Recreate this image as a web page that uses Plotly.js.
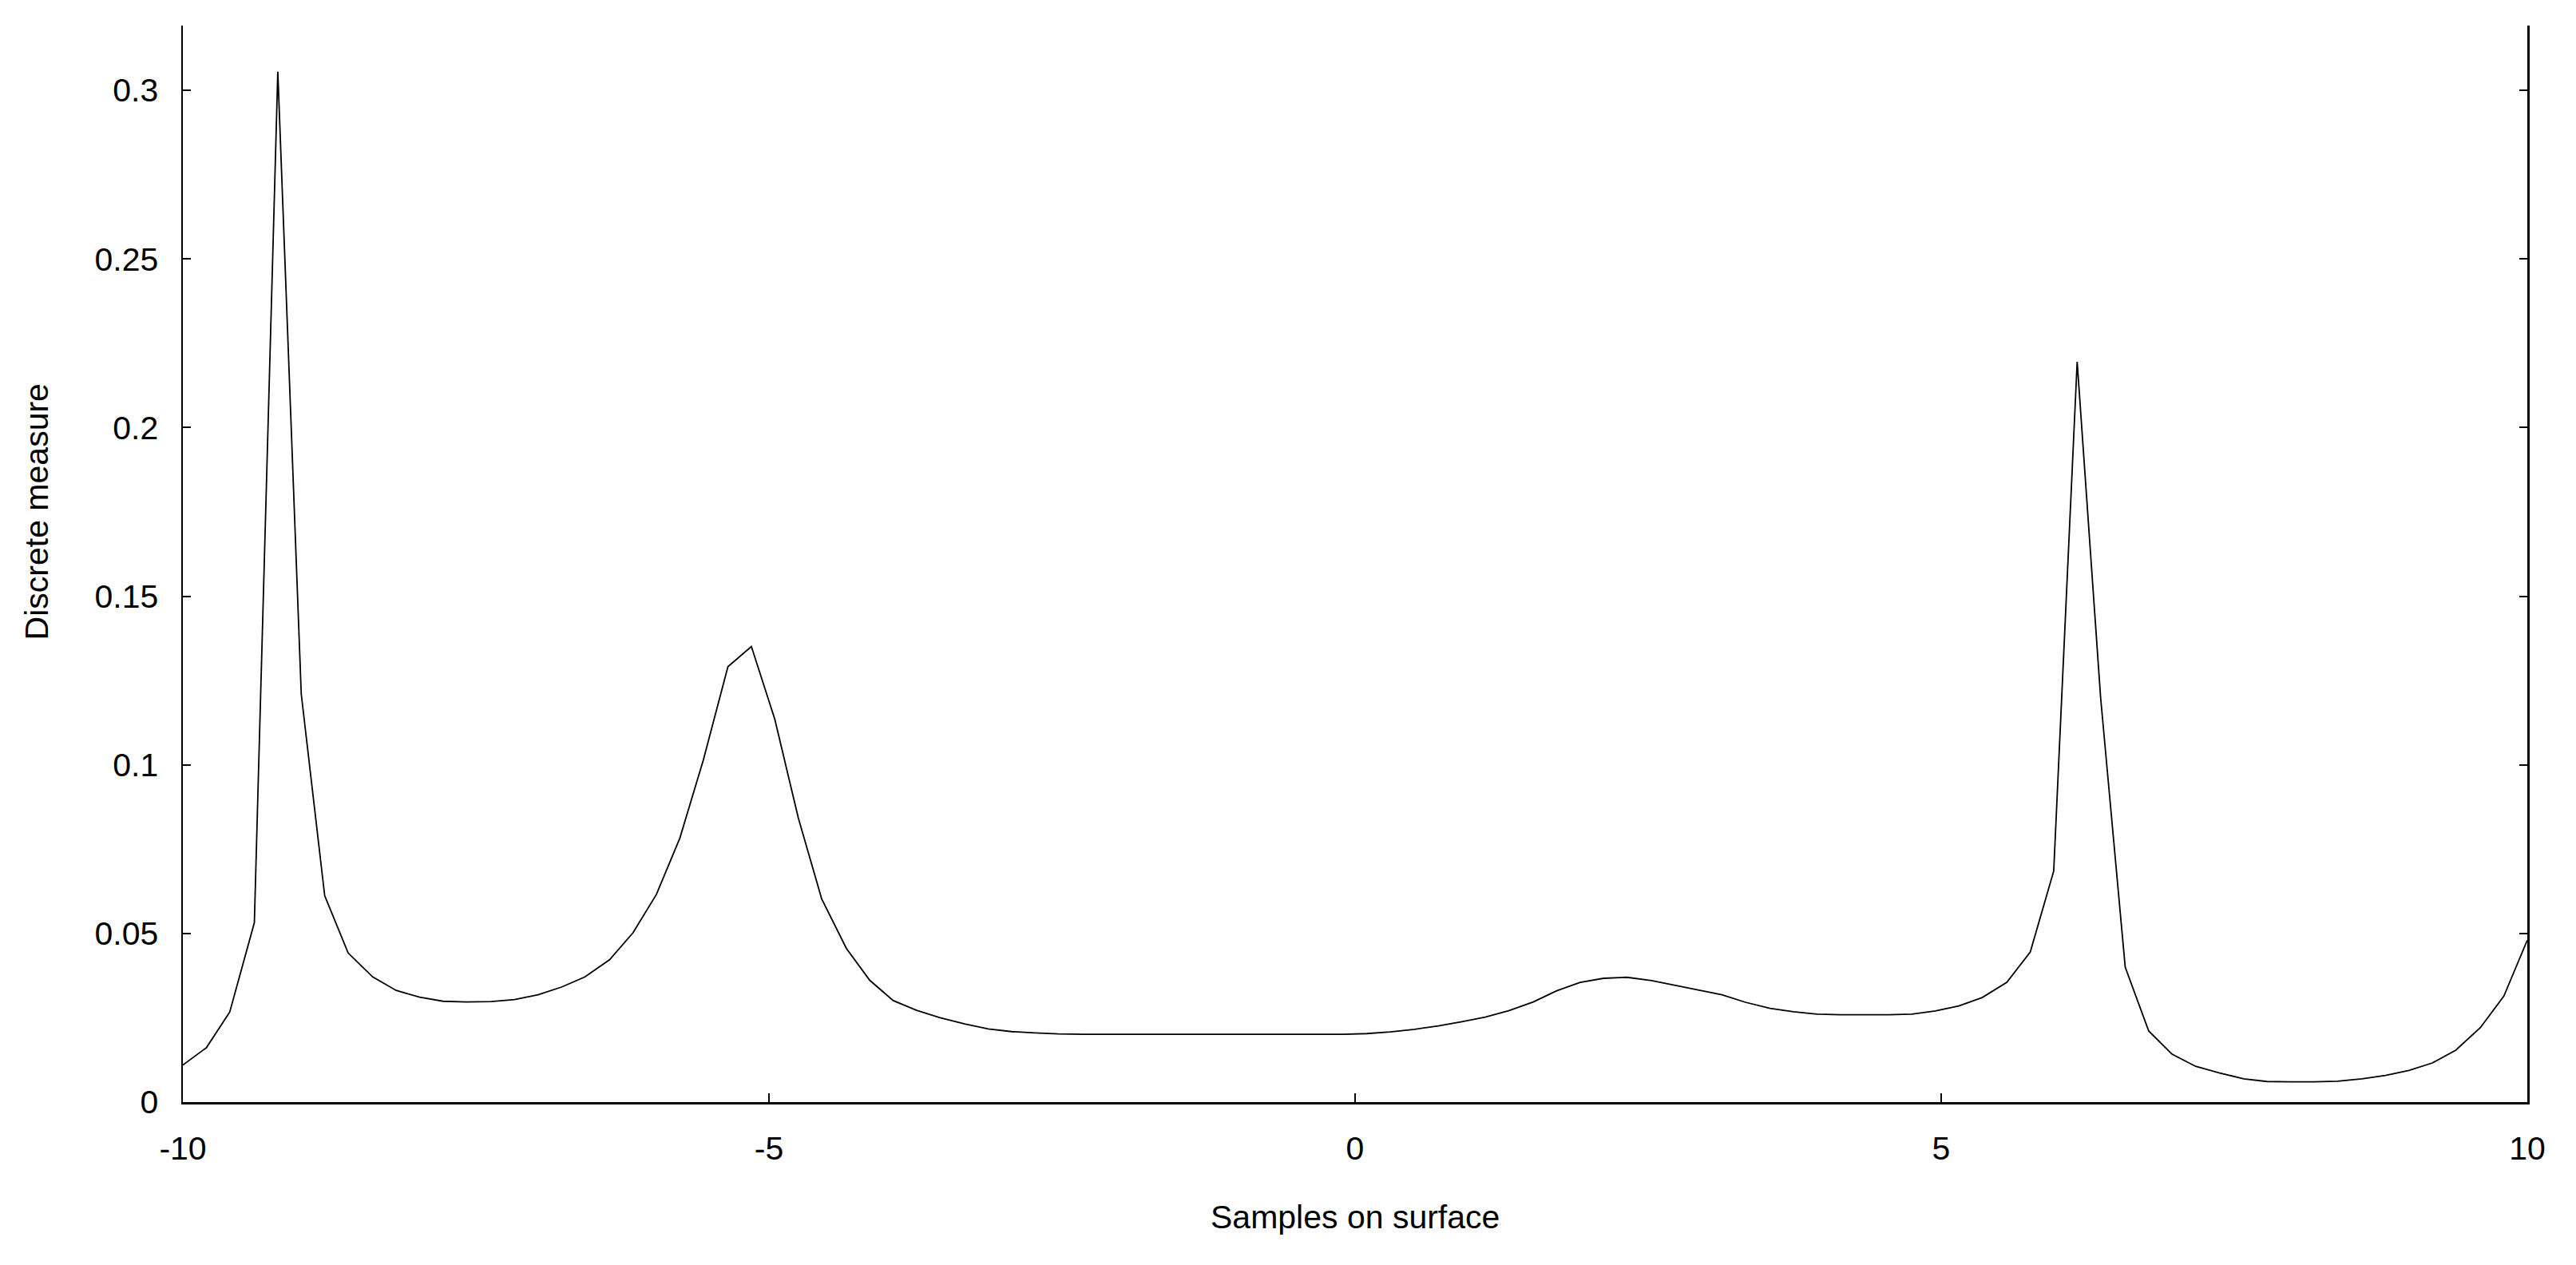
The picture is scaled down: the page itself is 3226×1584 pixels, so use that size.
<!DOCTYPE html>
<html>
<head>
<meta charset="utf-8">
<script src="https://cdn.plot.ly/plotly-3.0.1.min.js"></script>
<style>
  html, body { margin: 0; padding: 0; background: #fff; }
  #plot { width: 3226px; height: 1584px; }
</style>
</head>
<body>
<div id="plot"></div>
<script>
// sample positions on the surface (100 samples between -10 and 10)
var samples = [
  -10.00, -9.80, -9.60, -9.39, -9.19, -8.99, -8.79, -8.59, -8.38, -8.18,
  -7.98, -7.78, -7.58, -7.37, -7.17, -6.97, -6.77, -6.57, -6.36, -6.16,
  -5.96, -5.76, -5.56, -5.35, -5.15, -4.95, -4.75, -4.55, -4.34, -4.14,
  -3.94, -3.74, -3.54, -3.33, -3.13, -2.93, -2.73, -2.53, -2.32, -2.12,
  -1.92, -1.72, -1.52, -1.31, -1.11, -0.91, -0.71, -0.51, -0.30, -0.10,
  0.10, 0.30, 0.51, 0.71, 0.91, 1.11, 1.31, 1.52, 1.72, 1.92,
  2.12, 2.32, 2.53, 2.73, 2.93, 3.13, 3.33, 3.54, 3.74, 3.94,
  4.14, 4.34, 4.55, 4.75, 4.95, 5.15, 5.35, 5.56, 5.76, 5.96,
  6.16, 6.36, 6.57, 6.77, 6.97, 7.17, 7.37, 7.58, 7.78, 7.98,
  8.18, 8.38, 8.59, 8.79, 8.99, 9.19, 9.39, 9.60, 9.80, 10.00
];

// discrete measure
var measure = [
  0.0110, 0.0161, 0.0267, 0.0532, 0.3055, 0.1210, 0.0612, 0.0442, 0.0371, 0.0331,
  0.0311, 0.0299, 0.0297, 0.0298, 0.0304, 0.0318, 0.0341, 0.0371, 0.0422, 0.0502,
  0.0616, 0.0783, 0.1014, 0.1291, 0.1351, 0.1135, 0.0843, 0.0602, 0.0456, 0.0361,
  0.0301, 0.0272, 0.0250, 0.0232, 0.0217, 0.0209, 0.0205, 0.0202, 0.0201, 0.0201,
  0.0201, 0.0201, 0.0201, 0.0201, 0.0201, 0.0201, 0.0201, 0.0201, 0.0201, 0.0201,
  0.0203, 0.0208, 0.0216, 0.0226, 0.0238, 0.0252, 0.0271, 0.0297, 0.0330, 0.0355,
  0.0367, 0.0370, 0.0360, 0.0346, 0.0332, 0.0318, 0.0296, 0.0278, 0.0268, 0.0261,
  0.0259, 0.0259, 0.0259, 0.0261, 0.0270, 0.0285, 0.0310, 0.0355, 0.0445, 0.0685,
  0.2195, 0.1200, 0.0400, 0.0211, 0.0142, 0.0106, 0.0087, 0.0069, 0.0061, 0.0060,
  0.0060, 0.0062, 0.0069, 0.0079, 0.0094, 0.0116, 0.0154, 0.0221, 0.0314, 0.0480
];

var xTickVals = [-10, -5, 0, 5, 10];
var xTickText = ["-10", "-5", "0", "5", "10"];
var yTickVals = [0, 0.05, 0.1, 0.15, 0.2, 0.25, 0.3];
var yTickText = ["0", "0.05", "0.1", "0.15", "0.2", "0.25", "0.3"];

var xLabel = "Samples on surface";
var yLabel = "Discrete measure";

var trace = {
  x: samples,
  y: measure,
  type: "scatter",
  mode: "lines",
  line: { color: "#000", width: 1.8 },
  hoverinfo: "skip"
};

var fontFam = "Liberation Sans, Arial, sans-serif";

var layout = {
  width: 3226,
  height: 1584,
  margin: { l: 229, r: 61, t: 32, b: 204 },
  paper_bgcolor: "#fff",
  plot_bgcolor: "#fff",
  showlegend: false,
  font: { family: fontFam, size: 41, color: "#000" },
  xaxis: {
    range: [-10, 10],
    tickvals: xTickVals,
    ticktext: xTickText,
    ticks: "inside",
    ticklen: 11,
    tickwidth: 2,
    tickcolor: "#000",
    ticklabelstandoff: 20,
    showline: true,
    linecolor: "#000",
    linewidth: 2.5,
    mirror: false,
    showgrid: false,
    zeroline: false,
    tickfont: { family: fontFam, size: 41, color: "#000" }
  },
  yaxis: {
    range: [0, 0.3192],
    tickvals: yTickVals,
    ticktext: yTickText,
    ticks: "inside",
    ticklen: 10,
    tickwidth: 2,
    tickcolor: "#000",
    ticklabelstandoff: 20,
    showline: true,
    linecolor: "#000",
    linewidth: 2.5,
    mirror: "ticks",
    showgrid: false,
    zeroline: false,
    tickfont: { family: fontFam, size: 41, color: "#000" }
  },
  annotations: [
    {
      text: xLabel,
      xref: "paper", yref: "paper",
      x: 0.5, y: -0.1068,
      xanchor: "center", yanchor: "middle",
      showarrow: false,
      font: { family: fontFam, size: 41, color: "#000" }
    },
    {
      text: yLabel,
      xref: "paper", yref: "paper",
      x: -0.0623, y: 0.548,
      xanchor: "center", yanchor: "middle",
      textangle: -90,
      showarrow: false,
      font: { family: fontFam, size: 41, color: "#000" }
    }
  ]
};

Plotly.newPlot("plot", [trace], layout, { staticPlot: true, displayModeBar: false });
</script>
</body>
</html>
